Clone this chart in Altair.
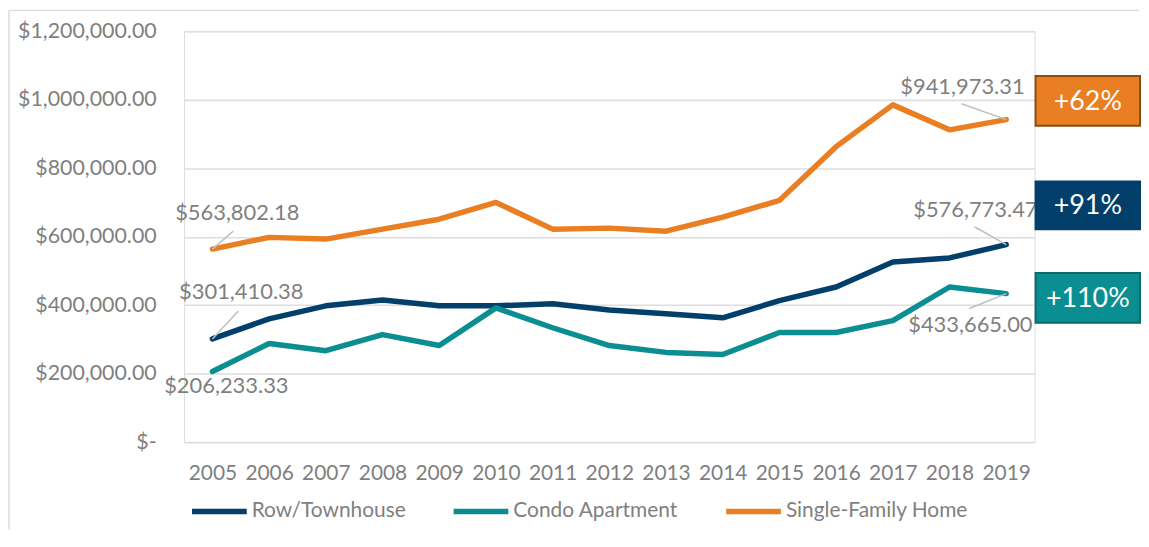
import altair as alt
import pandas as pd

years = list(range(2005, 2020))
series_names = ["Row/Townhouse", "Condo Apartment", "Single-Family Home"]
row_town = [301410.38, 360000, 398000, 415000, 398000, 398000, 404000, 386000, 375000,
            363000, 413000, 453000, 526000, 538000, 576773.47]
condo = [206233.33, 288000, 267000, 314000, 282000, 392000, 334000, 282000, 262000,
         256000, 320000, 320000, 355000, 453000, 433665.00]
single = [563802.18, 598000, 593000, 622000, 651000, 700000, 622000, 625000, 616000,
          657000, 706000, 863000, 985000, 912000, 941973.31]
colors = ["#033F6B", "#0B8E91", "#E97E22"]
badge_text = ["+62%", "+91%", "+110%"]

rows = []
for name, vals in zip(series_names, [row_town, condo, single]):
    for y, v in zip(years, vals):
        rows.append({"year": str(y), "series": name, "value": v})
df = pd.DataFrame(rows)

W, H = 855, 413
FONT = "Lato"
GRAY = "#7f7f7f"

x_enc = alt.X("year:N", scale=alt.Scale(type="point", padding=0.5),
              axis=alt.Axis(title=None, labelAngle=0, ticks=False, domain=False,
                            labelFontSize=21, labelColor=GRAY, labelFont=FONT,
                            labelPadding=21, grid=False))
y_enc = alt.Y("value:Q", scale=alt.Scale(domain=[0, 1200000]),
              axis=alt.Axis(title=None, values=[0, 200000, 400000, 600000, 800000, 1000000, 1200000],
                            labelExpr="datum.value == 0 ? '$-' : '$' + format(datum.value, ',.2f')",
                            ticks=False, domain=False, labelFontSize=21.5, labelColor=GRAY,
                            labelFont=FONT, labelPadding=28, gridColor="#dedede", gridWidth=1.6))

base = alt.Chart(df)

lines = base.mark_line(strokeWidth=5.5, strokeCap="round", strokeJoin="round").encode(
    x=x_enc, y=y_enc,
    color=alt.Color("series:N", scale=alt.Scale(domain=series_names, range=colors),
                    sort=series_names,
                    legend=alt.Legend(title=None, orient="none", legendX=5, legendY=452,
                                      direction="horizontal", symbolType="stroke",
                                      symbolSize=3025, symbolStrokeWidth=5.5,
                                      labelFontSize=21, labelColor=GRAY, labelFont=FONT,
                                      labelOffset=2, columnPadding=37, labelLimit=400)),
    order="year:N",
)

# annotations: (series, year, text dx, text dy, leader dx, leader dy)
ann = [
    ("Single-Family Home", "2005", 25, -36, 21, -18),
    ("Row/Townhouse", "2005", 29, -47, 26, -28),
    ("Condo Apartment", "2005", 14, 15, None, None),
    ("Single-Family Home", "2019", -44, -33, -45, -16),
    ("Row/Townhouse", "2019", -31, -35, -32, -18),
    ("Condo Apartment", "2019", -36, 32, -37, 15),
]

layers = []
# faint outer frame: only its left and top edges fall inside the picture
frame_src = alt.Chart(pd.DataFrame({"a": [0]}))
layers.append(frame_src.mark_rule(color="#dcdcdc", strokeWidth=1.5).encode(
    x=alt.value(-176), y=alt.value(-21), y2=alt.value(H + 88)))
layers.append(frame_src.mark_rule(color="#dcdcdc", strokeWidth=1.5).encode(
    x=alt.value(-176), x2=alt.value(W + 105), y=alt.value(-21)))

layers.append(lines)
for s, yr, tdx, tdy, ldx, ldy in ann:
    sub = base.transform_filter((alt.datum.series == s) & (alt.datum.year == yr))
    if ldx is not None:
        layers.append(sub.mark_rule(color="#bfbfbf", strokeWidth=1.5,
                                    x2Offset=ldx, y2Offset=ldy).encode(
            x="year:N", y="value:Q", x2="year:N", y2="value:Q"))
    layers.append(sub.mark_text(dx=tdx, dy=tdy, fontSize=22, font=FONT, color=GRAY,
                                align="center", baseline="middle").encode(
        x="year:N", y="value:Q",
        text=alt.Text("value:Q", format="$,.2f")))

# badges on the right
badge_pos = [(45, 95, "#E97E22", "#8B4C14"), (151, 199, "#033F6B", "#033F6B"), (243, 293, "#0B8E91", "#0A6A6C")]
for (y0, y1, fill, stroke), t in zip(badge_pos, badge_text):
    bsub = alt.Chart(pd.DataFrame({"label": [t]}))
    layers.append(bsub.mark_rect(fill=fill, stroke=stroke, strokeWidth=2).encode(
        x=alt.value(856), x2=alt.value(961), y=alt.value(y0), y2=alt.value(y1)))
    layers.append(bsub.mark_text(color="white", fontSize=27, font=FONT, align="center",
                                 baseline="middle").encode(
        x=alt.value(908.5), y=alt.value((y0 + y1) / 2 + 1), text="label:N"))

chart = alt.layer(*layers).properties(
    width=W, height=H,
    autosize=alt.AutoSizeParams(type="none"),
    padding={"left": 177, "top": 22, "right": 107, "bottom": 90},
).configure_view(strokeWidth=0, stroke="transparent").configure(background="white")

chart.save("out.html", embed_options={"renderer": "svg", "actions": False})
